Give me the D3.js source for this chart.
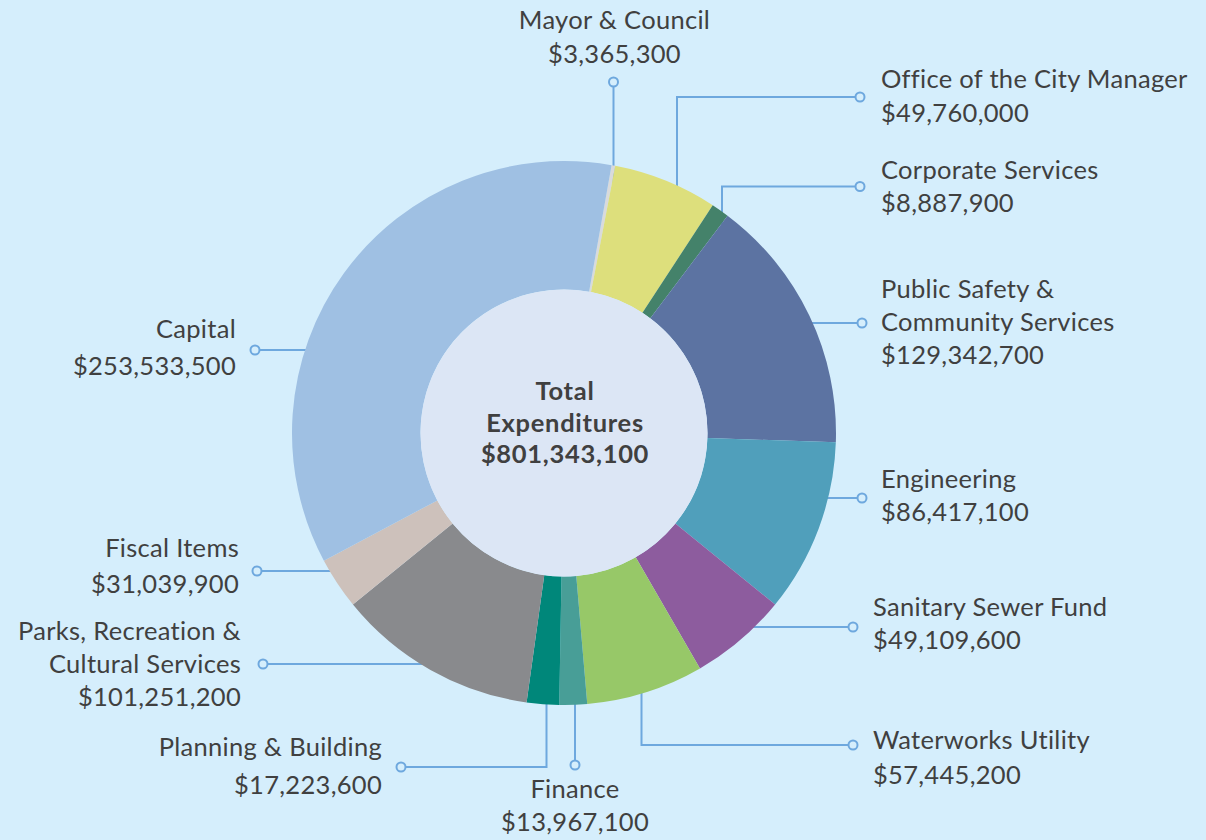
<!DOCTYPE html>
<html>
<head>
<meta charset="utf-8">
<script src="https://cdn.jsdelivr.net/npm/d3@7"></script>
<style>
  html, body { margin: 0; padding: 0; background: #d5eefc; }
  svg { display: block; font-family: Lato, "Open Sans", sans-serif; }
</style>
</head>
<body>
<svg id="chart" width="1206" height="840"></svg>
<script>
// departments in drawing order, clockwise from the top
var departments = ["Mayor & Council", "Office of the City Manager", "Corporate Services",
    "Public Safety & Community Services", "Engineering", "Sanitary Sewer Fund",
    "Waterworks Utility", "Finance", "Planning & Building",
    "Parks, Recreation & Cultural Services", "Fiscal Items", "Capital"];
// amounts printed in the labels
var amounts = [3365300, 49760000, 8887900, 129342700, 86417100, 49109600,
    57445200, 13967100, 17223600, 101251200, 31039900, 253533500];
// share of the ring each slice takes in the picture (%)
var sliceShares = [0.22, 6.19, 1.06, 15.28, 10.31, 5.81, 6.97, 1.64, 1.92, 11.94, 3.08, 35.58];
// how the names break over lines
var nameLines = [["Mayor & Council"], ["Office of the City Manager"], ["Corporate Services"],
    ["Public Safety &", "Community Services"], ["Engineering"], ["Sanitary Sewer Fund"],
    ["Waterworks Utility"], ["Finance"], ["Planning & Building"],
    ["Parks, Recreation &", "Cultural Services"], ["Fiscal Items"], ["Capital"]];
var totalLabel = ["Total", "Expenditures"];

var colors = ["#d9dadb", "#dddf7c", "#44826a", "#5c73a2", "#509fbb", "#8d5c9e",
    "#97c868", "#489e97", "#00877a", "#898a8d", "#cdc1bb", "#9fc0e3"];

var svg = d3.select("#chart");
var cx = 564, cy = 433;
var outerR = 272, innerR = 143.5;
var startDeg = 10.07; // first slice starts a bit right of 12 o'clock
var lineColor = "#6ea8de", textColor = "#404040";

// label layout: text anchor, x, first baseline, line gap, leader points (last one gets the dot)
var labelLayout = [
    {anchor: "middle", x: 614.5, y: 29, gap: 34, leader: [[613.5, 200], [613.5, 82]]},
    {anchor: "start", x: 881, y: 88, gap: 34, leader: [[677, 250], [677, 97], [860, 97]]},
    {anchor: "start", x: 881, y: 178.5, gap: 33.5, leader: [[722, 250], [722, 186.5], [860, 186.5]]},
    {anchor: "start", x: 881, y: 298, gap: 33, leader: [[780, 323], [862, 323]]},
    {anchor: "start", x: 881, y: 488, gap: 33, leader: [[800, 498], [862, 498]]},
    {anchor: "start", x: 873, y: 616, gap: 33, leader: [[720, 627], [853, 627]]},
    {anchor: "start", x: 873, y: 748.5, gap: 35, leader: [[641.5, 650], [641.5, 745], [853, 745]]},
    {anchor: "middle", x: 575, y: 798, gap: 33, leader: [[575, 680], [575, 765]]},
    {anchor: "end", x: 382, y: 756, gap: 38, leader: [[546.5, 680], [546.5, 767], [401, 767]]},
    {anchor: "end", x: 241, y: 640, gap: 33, leader: [[440, 664], [263, 664]]},
    {anchor: "end", x: 239, y: 557, gap: 36, leader: [[340, 571], [257, 571]]},
    {anchor: "end", x: 236, y: 337.5, gap: 37.5, leader: [[320, 350], [255, 350]]}
];

var fmt = d3.format("$,");

// leader lines go underneath the pie
var leaderG = svg.append("g");
var lineGen = d3.line();
labelLayout.forEach(function (l) {
    leaderG.append("path")
        .attr("d", lineGen(l.leader))
        .attr("fill", "none")
        .attr("stroke", lineColor)
        .attr("stroke-width", 2);
});

var pie = d3.pie()
    .sort(null)
    .value(function (d) { return d; })
    .startAngle(startDeg * Math.PI / 180)
    .endAngle(startDeg * Math.PI / 180 + 2 * Math.PI);
var arc = d3.arc().innerRadius(innerR).outerRadius(outerR);

var pieG = svg.append("g").attr("transform", "translate(" + cx + "," + cy + ")");
pieG.selectAll("path.slice")
    .data(pie(sliceShares))
    .enter().append("path")
    .attr("class", "slice")
    .attr("d", arc)
    .attr("fill", function (d, i) { return colors[i]; });

pieG.append("circle")
    .attr("r", innerR)
    .attr("fill", "#dce6f5");

// the dots at the label end of each leader
labelLayout.forEach(function (l) {
    var p = l.leader[l.leader.length - 1];
    svg.append("circle")
        .attr("cx", p[0]).attr("cy", p[1])
        .attr("r", 4.5)
        .attr("fill", "#d5eefc")
        .attr("stroke", lineColor)
        .attr("stroke-width", 2);
});

// labels
var labelG = svg.append("g")
    .attr("fill", textColor)
    .attr("font-size", 25.5)
    .attr("letter-spacing", 0.3);
departments.forEach(function (name, i) {
    var l = labelLayout[i];
    var lines = nameLines[i].concat([fmt(amounts[i])]);
    var t = labelG.append("text")
        .attr("text-anchor", l.anchor);
    lines.forEach(function (s, j) {
        t.append("tspan")
            .attr("x", l.x)
            .attr("y", l.y + j * l.gap)
            .text(s);
    });
});

// centre total
var total = d3.sum(amounts);
var centre = svg.append("text")
    .attr("text-anchor", "middle")
    .attr("fill", textColor)
    .attr("font-size", 25.5)
    .attr("font-weight", 700)
    .attr("letter-spacing", 0.7);
totalLabel.concat([fmt(total)]).forEach(function (s, j) {
    centre.append("tspan")
        .attr("x", cx + 1)
        .attr("y", 400 + j * 31.7)
        .text(s);
});
</script>
</body>
</html>
